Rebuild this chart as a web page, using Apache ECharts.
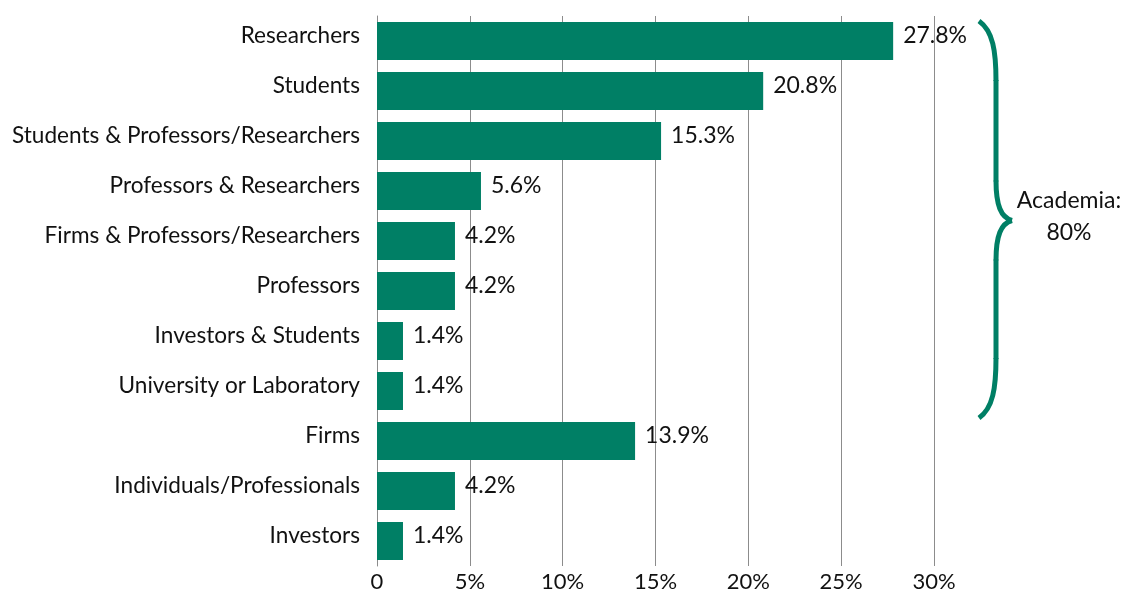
<!DOCTYPE html>
<html><head><meta charset="utf-8">
<script src="https://cdn.jsdelivr.net/npm/echarts@6/dist/echarts.min.js"></script>
<style>html,body{margin:0;padding:0;background:#fff}#c{width:1129px;height:597px}</style>
</head><body><div id="c"></div>
<script>
const categories = ["Researchers","Students","Students & Professors/Researchers","Professors & Researchers","Firms & Professors/Researchers","Professors","Investors & Students","University or Laboratory","Firms","Individuals/Professionals","Investors"];
const values = [27.8,20.8,15.3,5.6,4.2,4.2,1.4,1.4,13.9,4.2,1.4];
const xTicks = [0,5,10,15,20,25,30];
const braceLabel = ["Academia:","80%"];
const braceFrom = "Researchers", braceTo = "University or Laboratory";

const FONT = "Lato";
const chart = echarts.init(document.getElementById('c'));
chart.setOption({
  animation:false,
  grid:{left:377,right:195,top:16,bottom:31,containLabel:false},
  xAxis:{type:'value',min:xTicks[0],max:xTicks[xTicks.length-1],interval:xTicks[1]-xTicks[0],
    axisLine:{show:false},axisTick:{show:false},
    splitLine:{show:true,lineStyle:{color:'#8c8c8c',width:1}},
    axisLabel:{color:'#111',fontFamily:FONT,fontSize:22,margin:5,
      formatter:v=>v===0?'0':v+'%'}},
  yAxis:{type:'category',data:categories,inverse:true,
    axisLine:{show:true,lineStyle:{color:'#8c8c8c',width:1}},axisTick:{show:false},
    axisLabel:{margin:17,formatter:v=>'{a|'+v+'}',
      rich:{a:{color:'#111',fontFamily:FONT,fontSize:22.6,padding:[0,0,10,0]}}}},
  series:[{type:'bar',data:values,barCategoryGap:'24%',
    itemStyle:{color:'#007f65'},
    label:{show:true,position:'right',distance:10,offset:[0,-5],color:'#111',fontFamily:FONT,fontSize:23,
      formatter:p=>p.value.toFixed(1)+'%'}}]
});
const x0 = chart.convertToPixel({xAxisIndex:0},xTicks[xTicks.length-1]);
const yA = chart.convertToPixel({yAxisIndex:0},braceFrom)-20;
const yB = chart.convertToPixel({yAxisIndex:0},braceTo)+27;
const bx = x0+45, ym=(yA+yB)/2+1;
const st = {stroke:'#007f65',lineWidth:5,fill:null,lineCap:'butt'};
function bz(a,b,c,d){return {type:'bezierCurve',shape:{x1:a[0],y1:a[1],cpx1:b[0],cpy1:b[1],cpx2:c[0],cpy2:c[1],x2:d[0],y2:d[1]},style:st};}
function ln(a,b){return {type:'line',shape:{x1:a[0],y1:a[1],x2:b[0],y2:b[1]},style:st};}
const X = bx+17;
chart.setOption({graphic:[
  bz([bx,yA],[bx+14,yA+10],[X,yA+30],[X,yA+60]),
  ln([X,yA+59],[X,ym-39]),
  bz([X,ym-40],[X,ym-15],[bx+22,ym-3],[bx+33,ym]),
  bz([bx+33,ym],[bx+22,ym+3],[X,ym+15],[X,ym+40]),
  ln([X,ym+39],[X,yB-59]),
  bz([X,yB-60],[X,yB-30],[bx+14,yB-10],[bx,yB]),
  {type:'text',x:bx+90,y:ym-4,style:{text:braceLabel.join('\n'),fill:'#111',font:'23px '+FONT,align:'center',verticalAlign:'middle',lineHeight:32}}
]});
</script></body></html>
